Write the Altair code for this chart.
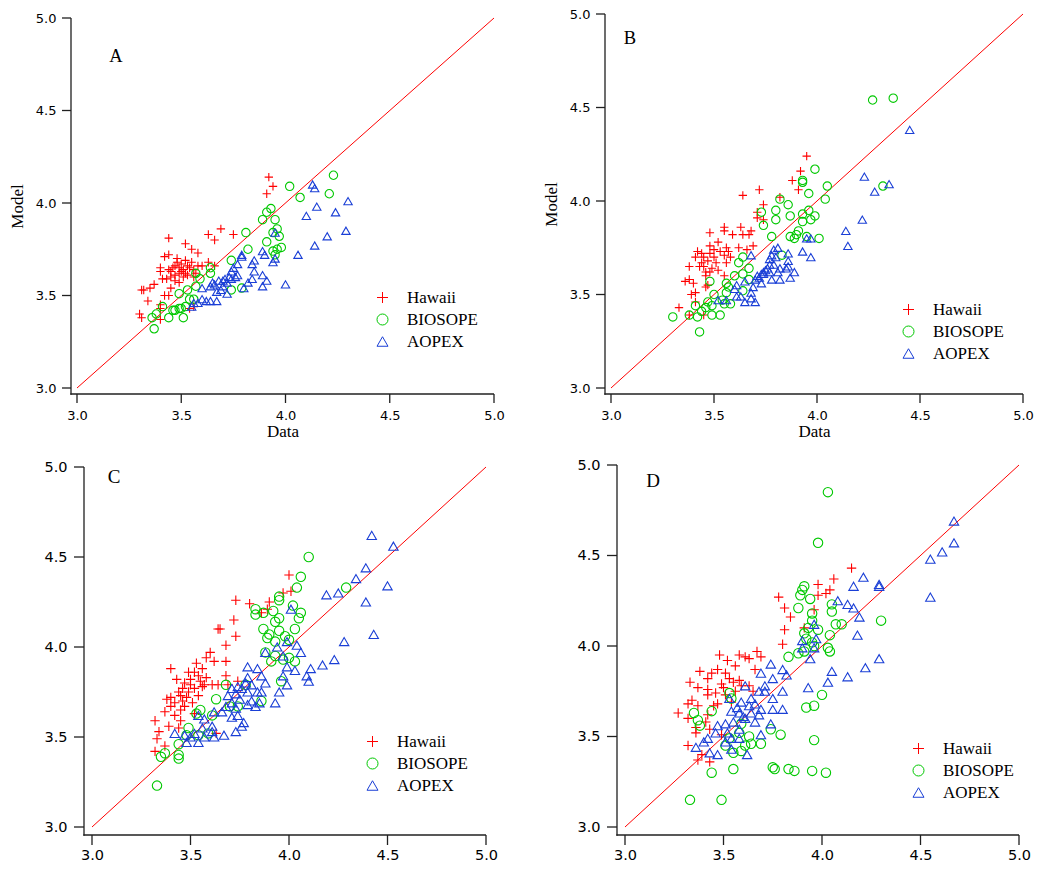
import altair as alt
import pandas as pd

SERIES = ["Hawaii", "BIOSOPE", "AOPEX"]
COLORS = ["#ff0000", "#00c800", "#1a3fd6"]
SHAPES = ["M-1,0L1,0M0,-1L0,1", "circle", "triangle-up"]
TICKS = [3.0, 3.5, 4.0, 4.5, 5.0]
ONE_TO_ONE = [3.0, 5.0]

# (Data, Model) pairs
A_HAWAII = [(3.92, 4.14), (3.91, 4.05), (3.94, 4.09), (3.69, 3.86), (3.75, 3.83), (3.63, 3.83),
            (3.66, 3.80), (3.44, 3.81), (3.52, 3.78), (3.55, 3.75), (3.58, 3.73), (3.44, 3.72),
            (3.42, 3.71), (3.63, 3.68), (3.66, 3.66), (3.48, 3.70), (3.40, 3.65), (3.40, 3.63),
            (3.41, 3.59), (3.45, 3.60), (3.49, 3.57), (3.37, 3.56), (3.35, 3.54), (3.32, 3.53),
            (3.31, 3.53), (3.45, 3.54), (3.42, 3.50), (3.44, 3.50), (3.34, 3.47), (3.40, 3.45),
            (3.40, 3.43), (3.30, 3.40), (3.31, 3.38), (3.40, 3.37), (3.56, 3.44), (3.54, 3.43),
            (3.45, 3.63), (3.47, 3.66), (3.51, 3.64), (3.53, 3.66), (3.55, 3.68), (3.58, 3.66),
            (3.60, 3.66), (3.49, 3.62), (3.52, 3.62), (3.47, 3.61), (3.53, 3.61), (3.43, 3.59),
            (3.50, 3.67), (3.48, 3.68), (3.56, 3.64), (3.46, 3.65), (3.50, 3.63), (3.54, 3.65),
            (3.57, 3.62), (3.52, 3.69), (3.47, 3.58), (3.56, 3.60), (3.49, 3.65), (3.44, 3.64),
            (3.51, 3.60)]
A_BIOSOPE = [(4.23, 4.15), (4.02, 4.09), (4.21, 4.05), (4.07, 4.03), (3.93, 3.97), (3.91, 3.95),
             (3.89, 3.91), (3.95, 3.91), (3.96, 3.86), (3.94, 3.84), (3.97, 3.82), (3.81, 3.84),
             (3.91, 3.79), (3.98, 3.76), (3.96, 3.75), (3.94, 3.74), (3.82, 3.75), (3.95, 3.72),
             (3.74, 3.69), (3.64, 3.65), (3.64, 3.62), (3.57, 3.62), (3.59, 3.59), (3.57, 3.55),
             (3.79, 3.54), (3.74, 3.53), (3.53, 3.53), (3.49, 3.51), (3.54, 3.48), (3.56, 3.48),
             (3.52, 3.44), (3.49, 3.43), (3.46, 3.42), (3.50, 3.43), (3.41, 3.44), (3.38, 3.40),
             (3.36, 3.38), (3.44, 3.38), (3.51, 3.38), (3.37, 3.32), (3.47, 3.42)]
A_AOPEX = [(4.13, 4.10), (4.14, 4.08), (4.30, 4.01), (4.15, 3.98), (4.24, 3.95), (4.10, 3.93),
           (3.95, 3.84), (4.29, 3.85), (4.20, 3.82), (4.14, 3.77), (4.06, 3.72), (3.89, 3.74),
           (3.90, 3.72), (3.79, 3.72), (3.79, 3.71), (3.85, 3.69), (3.77, 3.67), (3.84, 3.67),
           (3.95, 3.70), (3.94, 3.68), (3.75, 3.65), (3.74, 3.63), (3.85, 3.63), (3.89, 3.61),
           (3.91, 3.58), (3.84, 3.59), (3.82, 3.57), (4.00, 3.56), (3.89, 3.55), (3.80, 3.54),
           (3.71, 3.59), (3.68, 3.58), (3.65, 3.57), (3.64, 3.55), (3.60, 3.54), (3.72, 3.51),
           (3.69, 3.53), (3.67, 3.52), (3.72, 3.57), (3.76, 3.60), (3.77, 3.61), (3.73, 3.60),
           (3.60, 3.48), (3.56, 3.46), (3.62, 3.47), (3.64, 3.47), (3.67, 3.47), (3.55, 3.44),
           (3.58, 3.46), (3.70, 3.55), (3.70, 3.58), (3.74, 3.59), (3.66, 3.56)]

B_HAWAII = [(3.95, 4.24), (3.92, 4.16), (3.88, 4.11), (3.91, 4.06), (3.72, 4.06), (3.64, 4.03),
            (3.82, 4.02), (3.74, 3.98), (3.71, 3.94), (3.74, 3.90), (3.71, 3.91), (3.63, 3.86),
            (3.55, 3.86), (3.55, 3.84), (3.48, 3.83), (3.59, 3.82), (3.68, 3.84), (3.67, 3.82),
            (3.64, 3.82), (3.52, 3.78), (3.62, 3.75), (3.66, 3.74), (3.69, 3.76), (3.56, 3.75),
            (3.48, 3.76), (3.42, 3.73), (3.41, 3.70), (3.45, 3.70), (3.50, 3.70), (3.55, 3.71),
            (3.58, 3.70), (3.53, 3.73), (3.47, 3.68), (3.44, 3.67), (3.38, 3.65), (3.43, 3.65),
            (3.49, 3.64), (3.52, 3.63), (3.46, 3.62), (3.46, 3.60), (3.55, 3.60), (3.38, 3.58),
            (3.36, 3.57), (3.40, 3.56), (3.47, 3.55), (3.46, 3.54), (3.41, 3.51), (3.39, 3.50),
            (3.41, 3.46), (3.33, 3.43), (3.38, 3.39), (3.45, 3.39), (3.48, 3.72), (3.44, 3.72),
            (3.56, 3.67), (3.51, 3.67), (3.48, 3.62), (3.45, 3.65), (3.57, 3.73), (3.50, 3.74)]
B_BIOSOPE = [(4.37, 4.55), (4.27, 4.54), (3.99, 4.17), (3.93, 4.11), (3.93, 4.10), (4.05, 4.08),
             (3.96, 4.04), (4.32, 4.08), (4.04, 4.01), (3.82, 4.01), (3.86, 3.98), (3.73, 3.94),
             (3.80, 3.95), (3.96, 3.95), (3.93, 3.93), (3.99, 3.92), (3.87, 3.92), (3.80, 3.90),
             (3.97, 3.90), (3.93, 3.89), (3.74, 3.87), (3.91, 3.84), (3.90, 3.82), (3.78, 3.81),
             (3.87, 3.81), (3.89, 3.80), (4.01, 3.80), (3.95, 3.81), (3.83, 3.71), (3.64, 3.70),
             (3.62, 3.67), (3.67, 3.64), (3.64, 3.61), (3.60, 3.60), (3.67, 3.58), (3.56, 3.56),
             (3.48, 3.57), (3.57, 3.54), (3.56, 3.51), (3.64, 3.52), (3.50, 3.50), (3.54, 3.47),
             (3.55, 3.45), (3.58, 3.45), (3.49, 3.44), (3.46, 3.43), (3.41, 3.44), (3.44, 3.41),
             (3.38, 3.39), (3.42, 3.38), (3.49, 3.39), (3.53, 3.39), (3.30, 3.38), (3.43, 3.30),
             (3.47, 3.46)]
B_AOPEX = [(4.45, 4.38), (4.23, 4.13), (4.35, 4.09), (4.28, 4.05), (4.22, 3.90), (4.14, 3.84),
           (4.15, 3.76), (3.95, 3.80), (3.97, 3.80), (3.93, 3.73), (3.97, 3.70), (3.81, 3.75),
           (3.79, 3.74), (3.86, 3.72), (3.78, 3.71), (3.80, 3.70), (3.68, 3.71), (3.77, 3.69),
           (3.86, 3.68), (3.77, 3.66), (3.76, 3.64), (3.82, 3.64), (3.85, 3.64), (3.86, 3.65),
           (3.81, 3.62), (3.74, 3.62), (3.73, 3.61), (3.71, 3.60), (3.70, 3.58), (3.89, 3.62),
           (3.87, 3.59), (3.82, 3.58), (3.78, 3.58), (3.73, 3.56), (3.69, 3.54), (3.68, 3.51),
           (3.61, 3.55), (3.65, 3.57), (3.60, 3.53), (3.61, 3.49), (3.63, 3.49), (3.56, 3.47),
           (3.52, 3.47), (3.65, 3.46), (3.70, 3.46), (3.68, 3.48), (3.74, 3.61), (3.77, 3.62),
           (3.72, 3.59), (3.79, 3.66), (3.75, 3.63)]

C_HAWAII = [(4.00, 4.40), (4.01, 4.31), (3.97, 4.30), (3.73, 4.26), (3.80, 4.24), (3.90, 4.25),
            (3.89, 4.21), (3.86, 4.19), (3.72, 4.15), (3.64, 4.10), (3.65, 4.10), (3.73, 4.06),
            (3.68, 4.01), (3.60, 3.97), (3.58, 3.94), (3.68, 3.92), (3.62, 3.92), (3.53, 3.91),
            (3.56, 3.88), (3.40, 3.88), (3.68, 3.84), (3.74, 3.81), (3.49, 3.86), (3.54, 3.84),
            (3.43, 3.82), (3.47, 3.80), (3.57, 3.79), (3.52, 3.77), (3.64, 3.79), (3.69, 3.79),
            (3.44, 3.75), (3.49, 3.75), (3.54, 3.73), (3.40, 3.72), (3.38, 3.71), (3.46, 3.70),
            (3.51, 3.69), (3.40, 3.67), (3.47, 3.67), (3.45, 3.65), (3.37, 3.64), (3.42, 3.62),
            (3.52, 3.63), (3.45, 3.59), (3.32, 3.59), (3.39, 3.56), (3.44, 3.55), (3.34, 3.53),
            (3.33, 3.49), (3.37, 3.45), (3.32, 3.42), (3.63, 3.52), (3.46, 3.77), (3.50, 3.82),
            (3.56, 3.78), (3.61, 3.79), (3.42, 3.69), (3.48, 3.72), (3.52, 3.86), (3.55, 3.81),
            (3.50, 3.79), (3.58, 3.83), (3.45, 3.73)]
C_BIOSOPE = [(4.10, 4.50), (4.06, 4.39), (4.29, 4.33), (4.04, 4.33), (3.95, 4.28), (3.95, 4.26),
             (4.02, 4.23), (3.83, 4.21), (4.06, 4.19), (3.87, 4.19), (3.83, 4.18), (3.92, 4.20),
             (4.05, 4.16), (3.95, 4.16), (3.93, 4.14), (3.87, 4.10), (4.03, 4.10), (3.95, 4.09),
             (3.90, 4.07), (3.89, 4.05), (3.98, 4.06), (3.93, 4.03), (4.00, 4.04), (3.88, 3.97),
             (3.93, 3.95), (3.91, 3.92), (4.03, 3.92), (3.97, 3.93), (4.00, 3.94), (3.96, 3.81),
             (3.68, 3.79), (3.78, 3.79), (3.63, 3.71), (3.86, 3.70), (3.70, 3.67), (3.55, 3.65),
             (3.53, 3.63), (3.61, 3.62), (3.74, 3.67), (3.49, 3.55), (3.54, 3.51), (3.59, 3.52),
             (3.44, 3.46), (3.37, 3.41), (3.35, 3.39), (3.44, 3.40), (3.44, 3.38), (3.33, 3.23),
             (3.48, 3.51)]
C_AOPEX = [(4.42, 4.62), (4.53, 4.56), (4.39, 4.44), (4.34, 4.38), (4.50, 4.34), (4.19, 4.29),
           (4.25, 4.30), (4.39, 4.25), (4.01, 4.21), (4.43, 4.07), (4.28, 4.03), (3.99, 4.03),
           (4.04, 4.01), (3.94, 4.00), (3.88, 3.97), (4.06, 3.97), (3.97, 3.95), (4.23, 3.93),
           (4.17, 3.90), (4.11, 3.88), (4.03, 3.87), (3.99, 3.89), (4.09, 3.84), (4.10, 3.81),
           (3.97, 3.84), (3.79, 3.89), (3.84, 3.88), (3.86, 3.84), (3.88, 3.80), (3.99, 3.79),
           (3.95, 3.75), (3.93, 3.69), (3.79, 3.83), (3.78, 3.80), (3.81, 3.79), (3.74, 3.78),
           (3.71, 3.77), (3.73, 3.74), (3.69, 3.73), (3.79, 3.75), (3.84, 3.75), (3.85, 3.69),
           (3.83, 3.67), (3.79, 3.68), (3.75, 3.71), (3.71, 3.69), (3.68, 3.67), (3.73, 3.66),
           (3.66, 3.64), (3.62, 3.64), (3.74, 3.62), (3.71, 3.61), (3.77, 3.58), (3.76, 3.56),
           (3.73, 3.53), (3.67, 3.51), (3.61, 3.56), (3.61, 3.53), (3.57, 3.60), (3.54, 3.62),
           (3.56, 3.55), (3.52, 3.52), (3.50, 3.50), (3.47, 3.51), (3.42, 3.52), (3.54, 3.47),
           (3.48, 3.47), (3.57, 3.50), (3.62, 3.50), (3.81, 3.70), (3.86, 3.75), (3.76, 3.77)]

D_HAWAII = [(4.15, 4.43), (4.06, 4.37), (3.98, 4.34), (4.04, 4.31), (4.02, 4.29), (3.98, 4.28),
            (3.78, 4.27), (3.81, 4.21), (3.84, 4.16), (3.96, 4.20), (3.81, 4.09), (3.91, 4.10),
            (3.80, 4.01), (3.67, 3.97), (3.69, 3.94), (3.61, 3.94), (3.58, 3.95), (3.52, 3.92),
            (3.48, 3.95), (3.56, 3.89), (3.66, 3.87), (3.63, 3.93), (3.47, 3.87), (3.38, 3.86),
            (3.44, 3.85), (3.33, 3.80), (3.42, 3.82), (3.53, 3.82), (3.58, 3.81), (3.63, 3.78),
            (3.49, 3.79), (3.37, 3.77), (3.42, 3.76), (3.46, 3.74), (3.51, 3.73), (3.56, 3.75),
            (3.42, 3.73), (3.34, 3.70), (3.32, 3.68), (3.37, 3.67), (3.47, 3.68), (3.42, 3.62),
            (3.27, 3.63), (3.32, 3.60), (3.41, 3.58), (3.36, 3.55), (3.43, 3.54), (3.36, 3.52),
            (3.32, 3.45), (3.39, 3.40), (3.37, 3.37), (3.43, 3.36), (3.49, 3.51), (3.54, 3.69),
            (3.59, 3.78), (3.51, 3.85), (3.65, 3.75), (3.45, 3.67), (3.55, 3.80), (3.50, 3.77)]
D_BIOSOPE = [(4.03, 4.85), (3.98, 4.57), (3.91, 4.33), (3.90, 4.31), (3.89, 4.28), (3.94, 4.26),
             (3.88, 4.21), (4.05, 4.23), (4.05, 4.19), (3.95, 4.18), (3.95, 4.14), (4.07, 4.12),
             (4.10, 4.12), (4.30, 4.14), (3.98, 4.09), (3.93, 4.10), (3.91, 4.07), (3.92, 4.04),
             (4.04, 4.06), (3.95, 4.02), (3.96, 4.00), (4.03, 3.99), (4.04, 3.97), (3.91, 3.97),
             (3.88, 3.96), (3.83, 3.94), (4.00, 3.73), (3.92, 3.66), (3.96, 3.67), (3.79, 3.51),
             (3.96, 3.48), (3.74, 3.54), (3.69, 3.46), (3.64, 3.46), (3.61, 3.45), (3.59, 3.42),
             (3.55, 3.41), (3.53, 3.49), (3.51, 3.45), (3.63, 3.50), (3.58, 3.52), (3.54, 3.71),
             (3.53, 3.74), (3.44, 3.64), (3.35, 3.63), (3.37, 3.59), (3.38, 3.56), (3.44, 3.30),
             (3.55, 3.32), (3.75, 3.33), (3.76, 3.32), (3.83, 3.32), (3.86, 3.31), (3.95, 3.31),
             (4.02, 3.30), (3.33, 3.15), (3.49, 3.15), (3.59, 3.57)]
D_AOPEX = [(4.67, 4.69), (4.67, 4.57), (4.61, 4.52), (4.55, 4.48), (4.55, 4.27), (4.21, 4.38),
           (4.16, 4.33), (4.29, 4.34), (4.29, 4.33), (4.08, 4.25), (4.13, 4.23), (4.16, 4.21),
           (4.19, 4.16), (3.96, 4.12), (4.18, 4.06), (3.97, 4.04), (3.90, 4.03), (3.96, 3.99),
           (3.90, 3.99), (3.94, 3.93), (4.29, 3.93), (4.22, 3.88), (4.05, 3.86), (4.13, 3.83),
           (4.03, 3.80), (3.93, 3.77), (3.74, 3.90), (3.80, 3.87), (3.82, 3.84), (3.69, 3.85),
           (3.75, 3.82), (3.80, 3.75), (3.71, 3.78), (3.68, 3.75), (3.71, 3.75), (3.61, 3.78),
           (3.75, 3.71), (3.66, 3.68), (3.69, 3.65), (3.75, 3.65), (3.80, 3.65), (3.68, 3.62),
           (3.64, 3.63), (3.60, 3.61), (3.58, 3.63), (3.54, 3.64), (3.55, 3.58), (3.51, 3.57),
           (3.47, 3.56), (3.52, 3.52), (3.66, 3.58), (3.74, 3.57), (3.69, 3.51), (3.61, 3.60),
           (3.58, 3.54), (3.53, 3.71), (3.46, 3.52), (3.42, 3.49), (3.40, 3.47), (3.36, 3.44),
           (3.43, 3.41), (3.47, 3.40), (3.54, 3.43), (3.51, 3.47), (3.62, 3.40), (3.58, 3.49),
           (3.54, 3.49), (3.59, 3.69), (3.64, 3.71), (3.57, 3.66), (3.63, 3.67)]

SERIF = "Liberation Serif"
SANS = "DejaVu Sans"
INK = "#202020"


def frame(hawaii, biosope, aopex):
    rows = []
    for name, pts in zip(SERIES, [hawaii, biosope, aopex]):
        rows += [{"Data": x, "Model": y, "set": name} for x, y in pts]
    return pd.DataFrame(rows)


def axis_rects(xlo, ylo, xt, yt, hx, hy):
    # axis lines and outward ticks as thin filled rectangles, in data units
    rows = [{"Data": xlo - hx, "Data2": 5.0, "Model": ylo - hy, "Model2": ylo + hy},
            {"Data": xlo - hx, "Data2": xlo + hx, "Model": ylo - hy, "Model2": 5.0}]
    for t in TICKS:
        rows.append({"Data": t - hx, "Data2": t + hx, "Model": ylo - yt, "Model2": ylo})
        rows.append({"Data": xlo - xt, "Data2": xlo, "Model": t - hy, "Model2": t + hy})
    return pd.DataFrame(rows)


def panel(letter, df, g):
    # the cell keeps a margin of bpad px below and x0 px left of the axis lines
    w, h, bpad = g["w"], g["h"], g["bpad"]
    x0, xpx, gap = g["x0"], g["xpx"], g["gap"]
    ytop, ypx = g["ytop"], g["ypx"]
    xlo = 3.0 - gap / xpx
    ylo = 3.0 - gap / ypx
    xs = alt.Scale(domain=[xlo, 5.0], range=[x0, x0 + gap + 2 * xpx], nice=False, zero=False)
    ys = alt.Scale(domain=[ylo, 5.0], range=[h - bpad, ytop], nice=False, zero=False)

    common = dict(values=TICKS, format=".1f", grid=False, domain=False, ticks=False,
                  labelFlush=False, labelOverlap=False, labelFontSize=g["lab"],
                  labelColor="black", labelFont=SANS, titleFont=SERIF, titleFontSize=17,
                  titleFontWeight="normal", titleColor="black")
    xaxis = alt.Axis(orient="bottom", offset=-bpad, labelPadding=g["xlp"], titlePadding=1, **common)
    yaxis = alt.Axis(orient="left", offset=-x0, labelPadding=g["ylp"], titlePadding=9, **common)
    x_enc = alt.X("Data:Q", scale=xs, axis=xaxis, title="Data" if g["titles"] else None)
    y_enc = alt.Y("Model:Q", scale=ys, axis=yaxis, title="Model" if g["titles"] else None)

    leg = alt.Legend(orient="none", legendX=g["legx"], legendY=g["legy"], title=None,
                     labelFont=SERIF, labelFontSize=17, labelColor="black", labelOffset=16,
                     symbolSize=121, symbolStrokeWidth=1, rowPadding=4, padding=0)

    rect_df = axis_rects(xlo, ylo, g["tick"] / xpx, g["tick"] / ypx, 0.65 / xpx, 0.65 / ypx)
    axes = alt.Chart(rect_df).mark_rect(fill=INK, strokeWidth=0).encode(
        x=x_enc, x2="Data2:Q", y=y_enc, y2="Model2:Q"
    )

    line = alt.Chart(pd.DataFrame({"Data": ONE_TO_ONE, "Model": ONE_TO_ONE})).mark_line(
        color="#ff0000", strokeWidth=1
    ).encode(x=x_enc, y=y_enc)

    points = alt.Chart(df).mark_point(filled=False, strokeWidth=1.1, size=g["size"], opacity=1).encode(
        x=x_enc,
        y=y_enc,
        color=alt.Color("set:N", scale=alt.Scale(domain=SERIES, range=COLORS), legend=leg),
        shape=alt.Shape("set:N", scale=alt.Scale(domain=SERIES, range=SHAPES), legend=leg),
    )

    tag = alt.Chart(pd.DataFrame({"t": [letter]})).mark_text(
        font=SERIF, fontSize=g["tagsize"], color="black", align="center", baseline="middle"
    ).encode(x=alt.value(g["tagx"]), y=alt.value(g["tagy"]), text="t:N")

    return alt.layer(line, points, axes, tag).properties(width=w, height=h)


GEOM = {
    "A": dict(w=435, h=394, bpad=12, x0=12, gap=6, xpx=208.5, ytop=6, ypx=185, lab=13, tick=9,
              xlp=15, ylp=15, size=70, titles=True, legx=315, legy=277, tagx=57, tagy=44, tagsize=18.5),
    "B": dict(w=430, h=394, bpad=12, x0=12, gap=6, xpx=206, ytop=2, ypx=187, lab=13, tick=9,
              xlp=15, ylp=15, size=70, titles=True, legx=307, legy=289, tagx=37, tagy=26, tagsize=18.5),
    "C": dict(w=435, h=382, bpad=12, x0=25, gap=8, xpx=197, ytop=2, ypx=180, lab=14.5, tick=10,
              xlp=13, ylp=17, size=88, titles=False, legx=305, legy=268, tagx=55, tagy=12, tagsize=19),
    "D": dict(w=430, h=382, bpad=12, x0=24, gap=8, xpx=197, ytop=0, ypx=181, lab=14.5, tick=10,
              xlp=13, ylp=17, size=88, titles=False, legx=317, legy=275, tagx=60, tagy=16, tagsize=19),
}

pa = panel("A", frame(A_HAWAII, A_BIOSOPE, A_AOPEX), GEOM["A"])
pb = panel("B", frame(B_HAWAII, B_BIOSOPE, B_AOPEX), GEOM["B"])
pc = panel("C", frame(C_HAWAII, C_BIOSOPE, C_AOPEX), GEOM["C"])
pd_ = panel("D", frame(D_HAWAII, D_BIOSOPE, D_AOPEX), GEOM["D"])

chart = alt.concat(
    pa, pb, pc, pd_, columns=2, spacing={"row": 59, "column": 99}, bounds="flush"
).resolve_scale(
    x="independent", y="independent", color="independent", shape="independent"
).properties(
    padding=0, background="white"
).configure_view(
    strokeWidth=0
)

chart.save("out.html", embed_options={"renderer": "svg", "actions": False})
